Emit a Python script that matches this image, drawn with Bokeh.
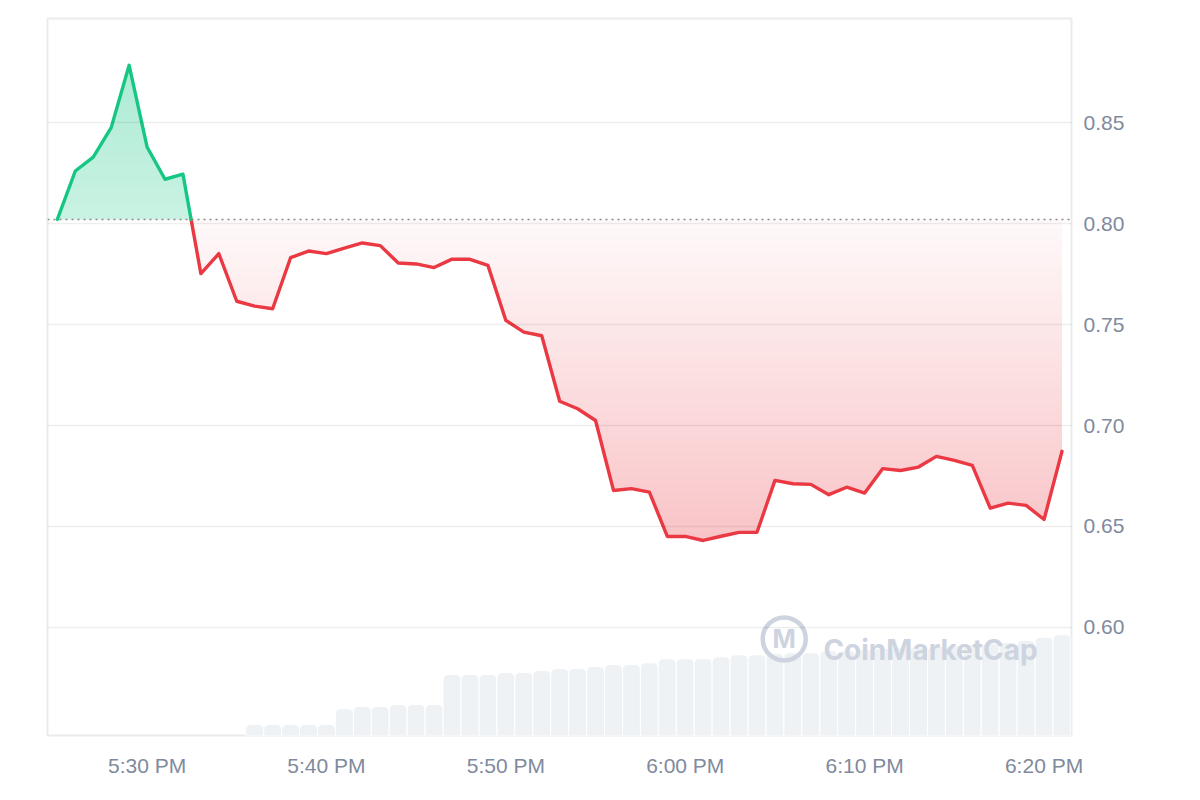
import numpy as np
from bokeh.plotting import figure
from bokeh.models import (Range1d, FixedTicker, CustomJSTickFormatter, Span, Label,
                          PrintfTickFormatter)
from bokeh.embed import file_html
from bokeh.resources import INLINE

# ---------------- data ----------------
price_start = "2024-01-01T17:25"          # one price per minute
prices = [0.8022, 0.8262, 0.8331, 0.8477, 0.8786, 0.8381, 0.8221, 0.8246, 0.7753, 0.7852,
          0.7616, 0.7592, 0.7579, 0.7832, 0.7865, 0.7852, 0.7880, 0.7905, 0.7892, 0.7806,
          0.7801, 0.7783, 0.7825, 0.7824, 0.7794, 0.7521, 0.7463, 0.7445, 0.7120, 0.7083,
          0.7025, 0.6678, 0.6687, 0.6670, 0.6450, 0.6450, 0.6430, 0.6451, 0.6470, 0.6471,
          0.6728, 0.6711, 0.6708, 0.6657, 0.6694, 0.6665, 0.6786, 0.6777, 0.6794, 0.6847,
          0.6827, 0.6802, 0.6590, 0.6615, 0.6604, 0.6534, 0.6872]

volume_start = "2024-01-01T17:36"         # one volume bar per minute
volumes = [11, 11, 11, 11, 11, 26.7, 29, 29, 31, 31, 31,
           61, 61, 61, 63, 63, 65, 67, 67, 69, 71, 71, 72.7,
           76.7, 76.7, 76.7, 78.7, 80.7, 80.7, 82, 82.7, 82.7, 84.7, 84.7,
           86, 87, 87.5, 88, 89, 90, 91, 92, 93, 95, 98.3, 100.7]

y_ticks = [0.60, 0.65, 0.70, 0.75, 0.80, 0.85]
x_tick_times = ["2024-01-01T17:30", "2024-01-01T17:40", "2024-01-01T17:50",
                "2024-01-01T18:00", "2024-01-01T18:10", "2024-01-01T18:20"]

GREEN = (22, 199, 132)
RED = (234, 57, 67)
LABEL = "#808a9d"
WM = "#cdd4df"

def to_ms(arr):
    return np.asarray(arr, dtype="datetime64[ms]").astype(np.int64).astype(float)

def tint(rgb, a):
    r, g, b = (round(255 - a * (255 - c)) for c in rgb)
    return f"#{r:02x}{g:02x}{b:02x}"

MIN = 60000.0
px = to_ms(np.datetime64(price_start) + np.arange(len(prices)) * np.timedelta64(1, "m"))
py = np.array(prices, dtype=float)
vx = to_ms(np.datetime64(volume_start) + np.arange(len(volumes)) * np.timedelta64(1, "m"))
base = float(py[0])

def refine(x, y, levels):
    """insert the exact crossing points of the polyline with given levels"""
    xs, ys = [x[0]], [y[0]]
    for i in range(len(x) - 1):
        x0, y0, x1, y1 = x[i], y[i], x[i + 1], y[i + 1]
        ts = []
        for L in levels:
            if (y0 - L) * (y1 - L) < 0:
                ts.append((L - y0) / (y1 - y0))
        for t in sorted(ts):
            xs.append(x0 + t * (x1 - x0))
            ys.append(y0 + t * (y1 - y0))
        xs.append(x1)
        ys.append(y1)
    return np.array(xs), np.array(ys)

# ---------------- figure ----------------
p = figure(width=1192, height=792, x_axis_type="datetime", y_axis_location="right",
           x_range=Range1d(float(px[0] - 0.55 * MIN), float(px[-1] + 0.53 * MIN)),
           y_range=Range1d(0.5463, 0.9018),
           output_backend="svg", toolbar_location=None,
           min_border_left=47, min_border_right=121, min_border_top=18, min_border_bottom=57,
           background_fill_color="white", border_fill_color="white",
           outline_line_color="#ebebeb", outline_line_width=2)
p.extra_y_ranges = {"vol": Range1d(0, 716.7)}

# volume bars
p.vbar(x=vx, top=volumes, bottom=0, width=MIN, y_range_name="vol",
       fill_color="#eff2f5", line_color="white", line_width=1,
       border_radius=(5, 5, 0, 0))

# gradient fills (nested opaque layers, lighter near the baseline)
N = 40
ymax, ymin = py.max(), py.min()
levels_g = base + (ymax - base) * np.arange(N) / N
levels_r = base - (base - ymin) * np.arange(N) / N
xf, yf = refine(px, py, list(levels_g) + list(levels_r))

for k, a in enumerate(levels_g):
    col = tint(GREEN, 0.23 + 0.12 * (k + 0.5) / N)
    p.varea(x=xf, y1=np.full_like(yf, a), y2=np.maximum(yf, a),
            fill_color=col, fill_alpha=1.0)
for k, a in enumerate(levels_r):
    col = tint(RED, 0.03 + 0.27 * (k + 0.5) / N)
    p.varea(x=xf, y1=np.minimum(yf, a), y2=np.full_like(yf, a),
            fill_color=col, fill_alpha=1.0)

# watermark
wm_logo_x = float(to_ms(np.datetime64("2024-01-01T18:05:31")))
wm_text_x = float(to_ms(np.datetime64("2024-01-01T18:07:42")))
p.scatter(x=[wm_logo_x], y=[0.5942], marker="circle", size=43, fill_color=None,
          line_color=WM, line_width=4.5)
p.add_layout(Label(x=wm_logo_x, y=0.5942, text="M", text_align="center",
                   text_baseline="middle", text_font="Inter", text_font_style="bold",
                   text_font_size="25px", text_color=WM))
p.add_layout(Label(x=wm_text_x, y=0.5888, text="CoinMarketCap", text_align="left",
                   text_baseline="alphabetic", text_font="Inter", text_font_style="bold",
                   text_font_size="28px", text_color=WM))

# baseline (opening price)
span = Span(location=base, dimension="width", line_color="#8a8a8a",
            line_width=1.5, line_dash="2 4")
p.add_layout(span)

# price line, coloured by side of baseline
xl, yl = refine(px, py, [base])
yg = np.where(yl >= base - 1e-12, yl, np.nan)
yr = np.where(yl <= base + 1e-12, yl, np.nan)
p.line(xl, yr, line_color=tint(RED, 1), line_width=3.4, line_join="round", line_cap="round")
p.line(xl, yg, line_color=tint(GREEN, 1), line_width=3.4, line_join="round", line_cap="round")

# axes & grid
p.xgrid.visible = False
p.ygrid.grid_line_color = "#000000"
p.ygrid.grid_line_alpha = 0.065
p.ygrid.grid_line_width = 1.5
p.ygrid.level = "overlay"
for ax in (p.xaxis[0], p.yaxis[0]):
    ax.axis_line_color = None
    ax.major_tick_line_color = None
    ax.minor_tick_line_color = None
    ax.major_label_text_color = LABEL
    ax.major_label_text_font = "Liberation Sans"
    ax.major_label_text_font_size = "21px"

p.yaxis.ticker = FixedTicker(ticks=y_ticks)
p.yaxis.formatter = PrintfTickFormatter(format="%.2f")
p.yaxis.major_label_standoff = 6

p.xaxis.ticker = FixedTicker(ticks=[float(t) for t in to_ms(np.array(x_tick_times, dtype="datetime64[m]"))])
p.xaxis.formatter = CustomJSTickFormatter(code="""
    const d = new Date(tick);
    let h = d.getUTCHours();
    const m = d.getUTCMinutes();
    const ap = h >= 12 ? 'PM' : 'AM';
    h = h % 12; if (h == 0) { h = 12; }
    return h + ':' + String(m).padStart(2, '0') + ' ' + ap;
""")
p.xaxis.major_label_standoff = 12

open("out.html", "w").write(file_html(p, INLINE))
